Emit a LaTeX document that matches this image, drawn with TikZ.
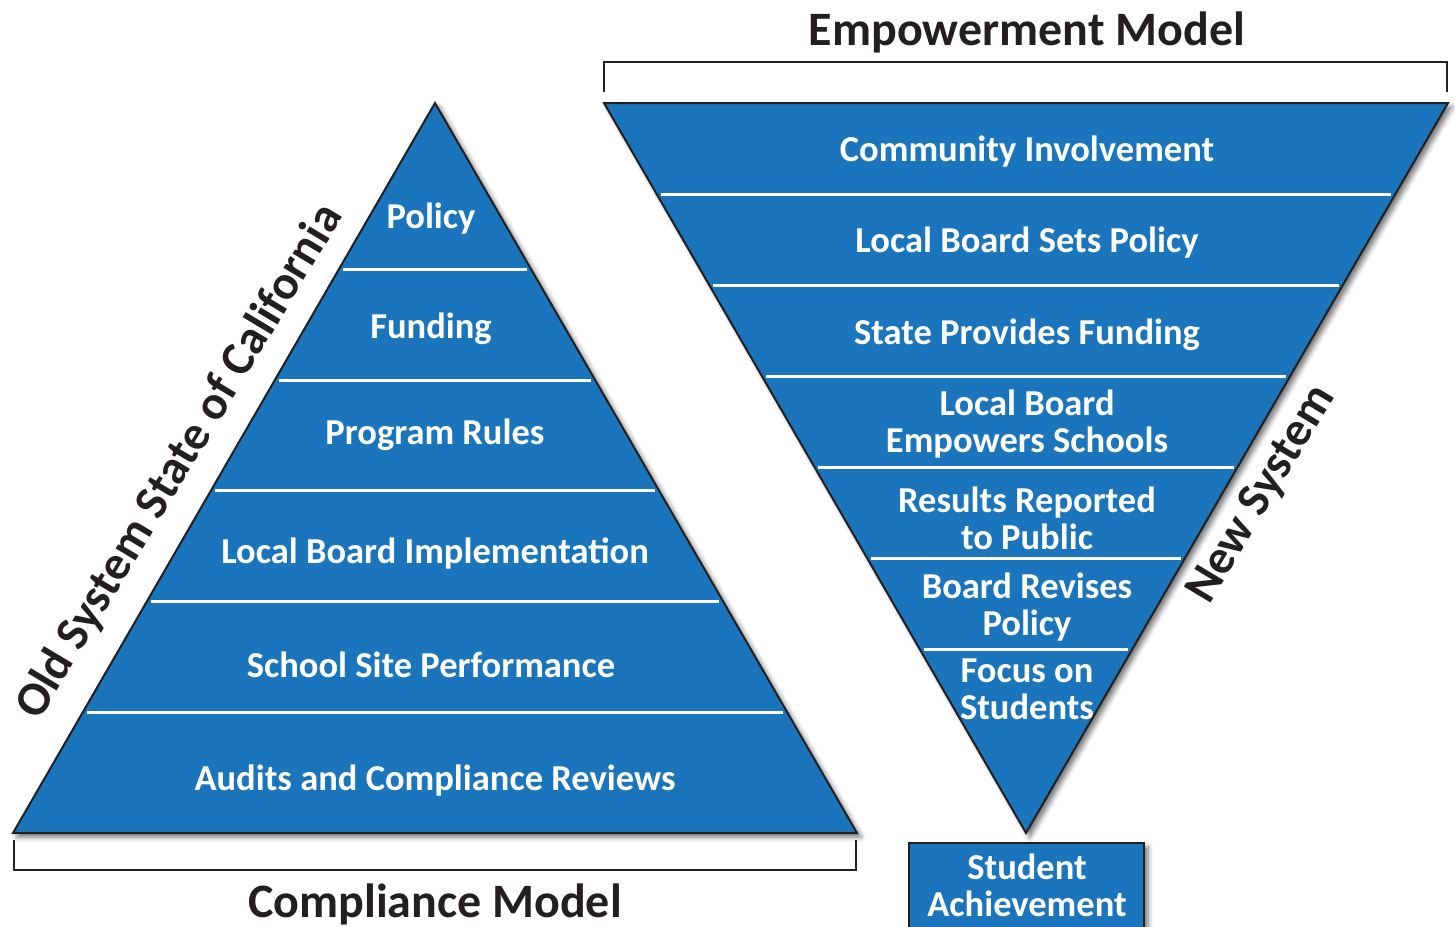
\documentclass[tikz,border=0pt]{standalone}
\usepackage{fontspec}
\setmainfont{Carlito}
\usetikzlibrary{shadows.blur}
\definecolor{pyrblue}{RGB}{27,117,188}
\definecolor{ink}{RGB}{35,31,32}

\begin{document}
\begin{tikzpicture}[x=1pt,y=-1pt,
  layer/.style={fill=pyrblue, draw=ink, line width=2pt, line join=miter,
    blur shadow={shadow xshift=4pt, shadow yshift=-4pt, shadow blur radius=5pt, shadow opacity=55}},
  divider/.style={draw=white, line width=3pt},
  tierlabel/.style={text=white, font=\bfseries\fontsize{36.5}{37}\selectfont, align=center, inner sep=0pt, yshift=-2pt},
  modeltitle/.style={text=ink, font=\bfseries\fontsize{48}{56}\selectfont, inner sep=0pt, yshift=-2pt},
  sidelabel/.style={text=ink, font=\bfseries\fontsize{48}{56}\selectfont, rotate=59, inner sep=0pt},
  bracket/.style={draw=ink, line width=2pt, line join=miter}]

\useasboundingbox (0,0) rectangle (1455,926);
\begin{scope}
\clip (0,0) rectangle (1455,926);

% ---------- compliance pyramid ----------
\path[layer] (435,103) -- (857,833) -- (13,833) -- cycle;
\draw[divider] (343,269) -- (527,269);
\draw[divider] (279,380) -- (591,380);
\draw[divider] (215,490) -- (655,490);
\draw[divider] (151,601) -- (719,601);
\draw[divider] (87,712) -- (783,712);

\node[tierlabel] (policy)  at (431,217) {Policy};
\node[tierlabel] (funding) at (431,327) {Funding};
\node[tierlabel] (rules)   at (435,433) {Program Rules};
\node[tierlabel] (implement) at (435,552) {Local Board Implementation};
\node[tierlabel] (siteperf) at (431,663) {School Site Performance};
\node[tierlabel] (audits)  at (435,779) {Audits and Compliance Reviews};

\draw[bracket] (14,840) -- (14,870) -- (856,870) -- (856,840);
\node[modeltitle] (compliance) at (435,902) {Compliance Model};
\node[sidelabel] (oldsystem) at (180,462) {Old System State of California};

% ---------- empowerment pyramid ----------
\path[layer] (604,103) -- (1448,103) -- (1026,833) -- cycle;
\draw[divider] (661,194) -- (1391,194);
\draw[divider] (713,285) -- (1339,285);
\draw[divider] (766,376) -- (1286,376);
\draw[divider] (818,467) -- (1234,467);
\draw[divider] (871,558) -- (1181,558);
\draw[divider] (924,649) -- (1128,649);

\node[tierlabel] (community) at (1027,150) {Community Involvement};
\node[tierlabel] (setspolicy) at (1027,241) {Local Board Sets Policy};
\node[tierlabel] (statefund) at (1027,333) {State Provides Funding};
\node[tierlabel] (empowers) at (1027,422) {Local Board\\Empowers Schools};
\node[tierlabel] (results) at (1027,516) {Results Reported\\to Public};
\node[tierlabel] (revises) at (1027,605) {Board Revises\\Policy};
\node[tierlabel] (focus) at (1027,687) {Focus on\\Students};

\draw[bracket] (604,92) -- (604,62) -- (1447,62) -- (1447,92);
\node[modeltitle] (empowerment) at (1027,30) {Empowerment Model};
\node[sidelabel] (newsystem) at (1262,495) {New System};

% ---------- outcome box ----------
\path[layer] (909,843) rectangle (1144,940);
\node[tierlabel] (achievement) at (1027,883) {Student\\Achievement};
\end{scope}
\end{tikzpicture}
\end{document}
